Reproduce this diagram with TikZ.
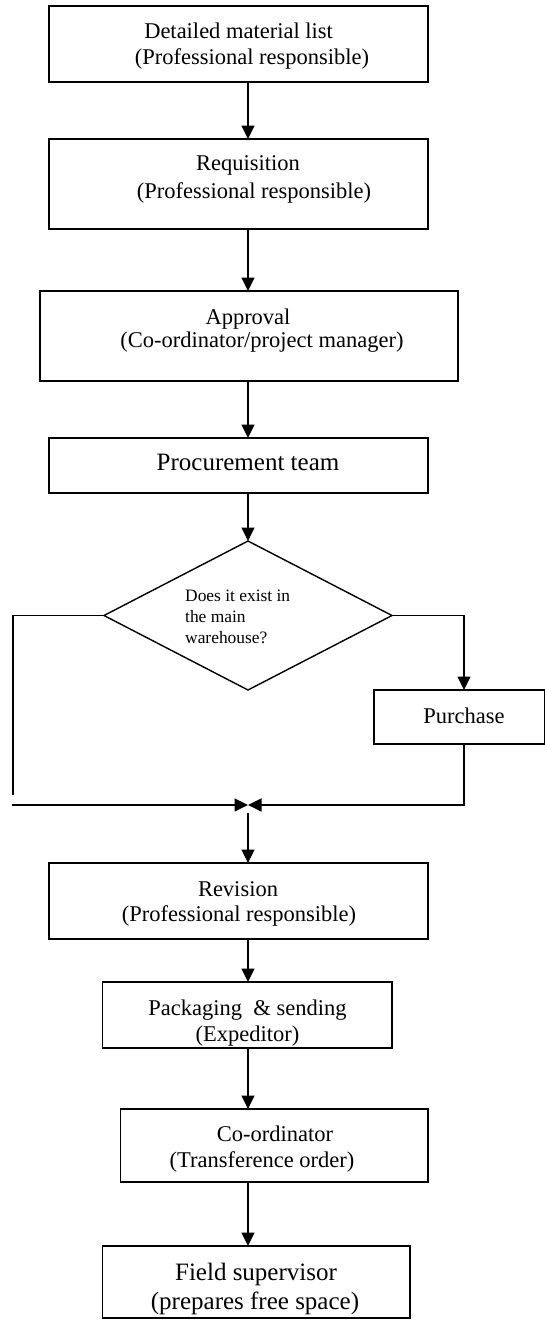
\documentclass[tikz,border=0pt]{standalone}
\usepackage{fontspec}
\setmainfont{Liberation Serif}
\usetikzlibrary{shapes.geometric,arrows.meta}
\begin{document}
\begin{tikzpicture}[x=1pt,y=-1pt,
  box/.style={draw, line width=1.4pt, inner sep=0pt, outer sep=0pt},
  dia/.style={draw, diamond, line width=1.4pt, inner sep=0pt, outer sep=0pt},
  ln/.style={line width=1.4pt},
  arr/.style={line width=1.4pt, -{Triangle[length=13.5pt,width=13pt]}},
  txt/.style={font=\fontsize{22.5}{26}\selectfont, inner sep=0pt, anchor=base},
  txtb/.style={font=\fontsize{25}{29}\selectfont, inner sep=0pt, anchor=base},
  txts/.style={font=\fontsize{17.4}{21}\selectfont, inner sep=0pt, anchor=base west}]
\useasboundingbox[fill=white] (0,0) rectangle (545,1320);
\coordinate (ax) at (248,0);
\coordinate (rx) at (464,0);
% boxes
\node[box, minimum width=379pt, minimum height=76pt] (b1) at (238.5,44) {};
\node[box, minimum width=379pt, minimum height=90pt] (b2) at (238.5,184) {};
\node[box, minimum width=418pt, minimum height=90pt] (b3) at (249,336) {};
\node[box, minimum width=379pt, minimum height=55pt] (b4) at (238.5,465.5) {};
\node[dia, minimum width=288pt, minimum height=149pt] (d) at (248,615.5) {};
\node[box, minimum width=170.5pt, minimum height=54pt] (pu) at (459.25,717) {};
\node[box, minimum width=379pt, minimum height=76pt] (rv) at (238.5,901) {};
\node[box, minimum width=289.5pt, minimum height=66pt] (pk) at (247.25,1015) {};
\node[box, minimum width=307.4pt, minimum height=73pt] (co) at (274.3,1145.5) {};
\node[box, minimum width=307.5pt, minimum height=72pt] (fs) at (256.25,1282) {};
% texts
\node[txt] (t1a) at (238.6,38) {Detailed material list};
\node[txt] (t1b) at (252,64) {(Professional responsible)};
\node[txt] (t2a) at (248,170) {Requisition};
\node[txt] (t2b) at (254,198) {(Professional responsible)};
\node[txt] (t3a) at (248,324) {Approval};
\node[txt] (t3b) at (262,347) {(Co-ordinator/project manager)};
\node[txtb] (t4) at (248,470) {Procurement team};
\node[txts] (tda) at (185,601) {Does it exist in};
\node[txts] (tdb) at (185,622) {the main};
\node[txts] (tdc) at (185,643) {warehouse?};
\node[txt] (tp) at (464,723) {Purchase};
\node[txt] (tra) at (238,896) {Revision};
\node[txt] (trb) at (239,921) {(Professional responsible)};
\node[txt] (tka) at (247.5,1015) {Packaging \ \& sending};
\node[txt] (tkb) at (247.6,1041) {(Expeditor)};
\node[txt] (tca) at (275,1141.5) {Co-ordinator};
\node[txt] (tcb) at (262,1167) {(Transference order)};
\node[txtb] (tfa) at (256,1280) {Field supervisor};
\node[txtb] (tfb) at (255,1309) {(prepares free space)};
% connectors
\coordinate (lb) at (13,795);
\coordinate (ls) at (12,805);
\coordinate (m) at (248,805);
\coordinate (m2) at (248,813);
\draw[arr] (b1.south -| ax) -- (b2.north -| ax);
\draw[arr] (b2.south -| ax) -- (b3.north -| ax);
\draw[arr] (b3.south -| ax) -- (b4.north -| ax);
\draw[arr] (b4.south -| ax) -- (d.north);
\draw[ln] (d.west) -| (lb);
\draw[arr] (d.east) -| (pu.north -| rx);
\draw[arr] (ls) -- (m);
\draw[arr] (pu.south -| rx) |- (m);
\draw[arr] (m2) -- (rv.north -| ax);
\draw[arr] (rv.south -| ax) -- (pk.north -| ax);
\draw[arr] (pk.south -| ax) -- (co.north -| ax);
\draw[arr] (co.south -| ax) -- (fs.north -| ax);
\end{tikzpicture}
\end{document}
